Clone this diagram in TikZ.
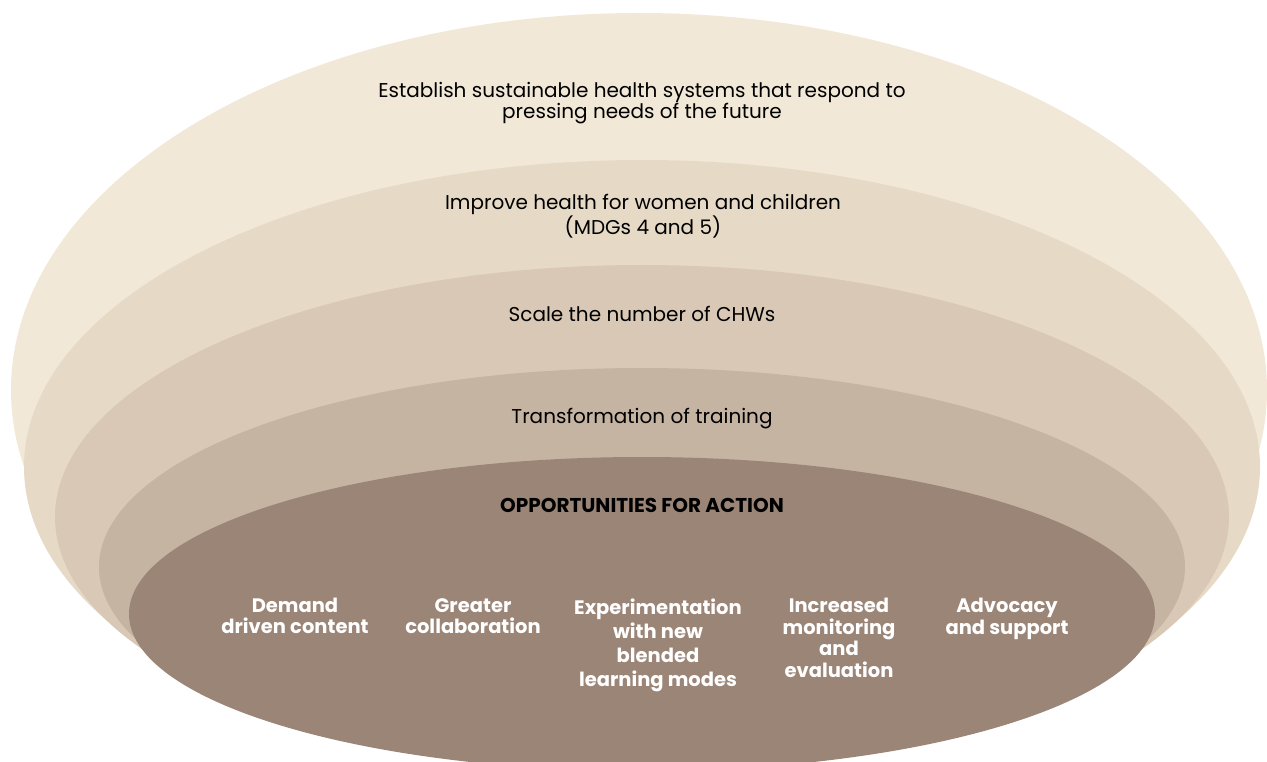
\documentclass[tikz,border=0pt]{standalone}
\usepackage{fontspec}
\setmainfont{Poppins}
\definecolor{ringA}{HTML}{F2E8D7}
\definecolor{ringB}{HTML}{E6DAC7}
\definecolor{ringC}{HTML}{D8C8B5}
\definecolor{ringD}{HTML}{C6B4A3}
\definecolor{ringE}{HTML}{9B8577}
\tikzset{
  goal/.style={align=center, inner sep=0pt, text=black, font=\fontsize{20}{21}\selectfont},
  headline/.style={inner sep=0pt, text=black, font=\bfseries\fontsize{20}{21}\selectfont},
  action/.style={align=center, inner sep=0pt, text=white, font=\bfseries\fontsize{19.5}{21.5}\selectfont}
}

\begin{document}
\begin{tikzpicture}[x=1pt,y=-1pt]
\useasboundingbox (0,0) rectangle (1267,762);
\clip (0,0) rectangle (1267,762);
\fill[ringA] (639,390) ellipse [x radius=628pt, y radius=377pt];
\fill[ringB] (642,467) ellipse [x radius=618pt, y radius=307pt];
\fill[ringC] (642,517) ellipse [x radius=587pt, y radius=252pt];
\fill[ringD] (642,567) ellipse [x radius=543pt, y radius=199pt];
\fill[ringE] (642,614) ellipse [x radius=513pt, y radius=157pt];
\node[goal] (future) at (642,103) {Establish sustainable health systems that respond to\\pressing needs of the future};
\node[goal, font=\fontsize{20}{22}\selectfont] (women) at (643,216) {Improve health for women and children\\(MDGs 4 and 5)};
\node[goal] (chws) at (642,314) {Scale the number of CHWs};
\node[goal] (training) at (642,419) {Transformation of training};
\node[headline] (action) at (642,505) {OPPORTUNITIES FOR ACTION};
\node[action] (demand) at (295,616) {Demand\\driven content};
\node[action] (collab) at (473,616) {Greater\\collaboration};
\node[action, font=\bfseries\fontsize{19.5}{24}\selectfont] (blended) at (658,645) {Experimentation\\with new\\blended\\learning modes};
\node[action] (monitor) at (839,638) {Increased\\monitoring\\and\\evaluation};
\node[action] (advocacy) at (1007,619) {Advocacy\\and support};
\end{tikzpicture}
\end{document}
